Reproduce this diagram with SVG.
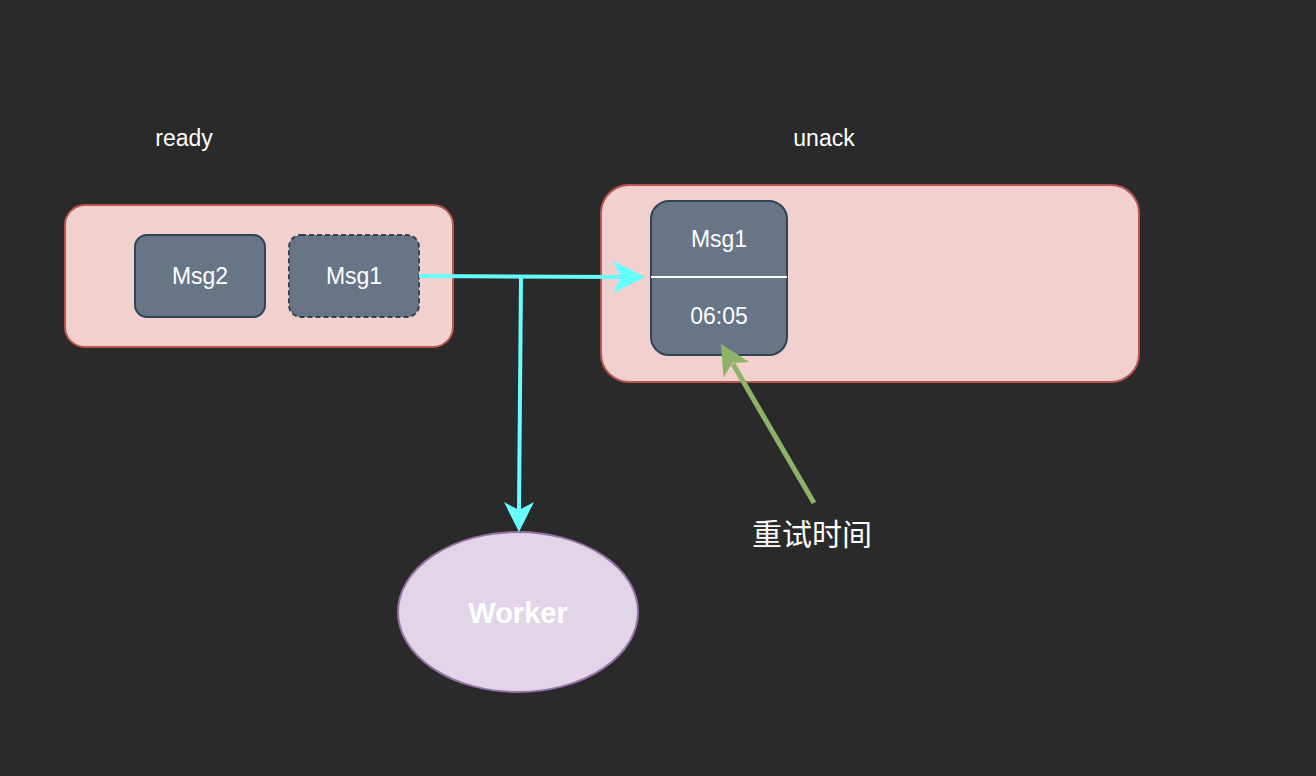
<svg xmlns="http://www.w3.org/2000/svg" width="1316" height="776" viewBox="0 0 1316 776">
<style>
.lbl{font-family:"Liberation Sans",Arial,sans-serif;fill:#ffffff;text-anchor:middle}
.box{fill:#f2d0cd;stroke:#b85450;stroke-width:2}
.msg{fill:#677587;stroke:#314354;stroke-width:2}
.cy{stroke:#66ffff;stroke-width:4;fill:none}
.cyh{fill:#66ffff}
.gr{stroke:#8cb369;stroke-width:5;fill:none}
.grh{fill:#8cb369}
</style>
<rect width="1316" height="776" fill="#2a2a2a"/>
<g id="ready-label"><text class="lbl" x="184" y="146" font-size="23">ready</text></g>
<g id="unack-label"><text class="lbl" x="824" y="146" font-size="23">unack</text></g>
<g id="ready"><rect class="box" x="65" y="205" width="388" height="142" rx="20"/></g>
<g id="unack"><rect class="box" x="601" y="185" width="538" height="197" rx="28"/></g>
<g id="msg2"><rect class="msg" x="135" y="235" width="130" height="82" rx="12"/><text class="lbl" x="200" y="284" font-size="23">Msg2</text></g>
<g id="msg1-ready"><rect class="msg" x="289" y="235" width="130" height="82" rx="12" stroke-dasharray="5 3"/><text class="lbl" x="354" y="284" font-size="23">Msg1</text></g>
<g id="msg1-unack"><rect class="msg" x="651" y="201" width="136" height="154" rx="18"/><line x1="651" y1="277" x2="787" y2="277" stroke="#ffffff" stroke-width="2"/><text class="lbl" x="719" y="247" font-size="23">Msg1</text><text class="lbl" x="719" y="324" font-size="23">06:05</text></g>
<g id="worker"><ellipse cx="518" cy="612" rx="120" ry="80" fill="#e1d5e7" stroke="#9673a6" stroke-width="2"/><text class="lbl" x="518" y="623" font-size="29" font-weight="bold">Worker</text></g>
<g id="retry-label"><text class="lbl" x="812" y="545" font-size="30" style="font-family:'Noto Sans CJK SC',sans-serif">重试时间</text></g>
<g id="connectors">
<path class="cy" d="M419,276 L622,277"/>
<path class="cyh" d="M645,277 L613,261 L621,277 L613,293 Z"/>
<path class="cy" d="M521,277 L519,511"/>
<path class="cyh" d="M519,532 L504,502 L519,510 L534,502 Z"/>
<path class="gr" d="M814,503 L733,364"/>
<path class="grh" d="M721,344 L749.3,362.1 L732.3,362.9 L723.5,377.5 Z"/>
</g>
</svg>
